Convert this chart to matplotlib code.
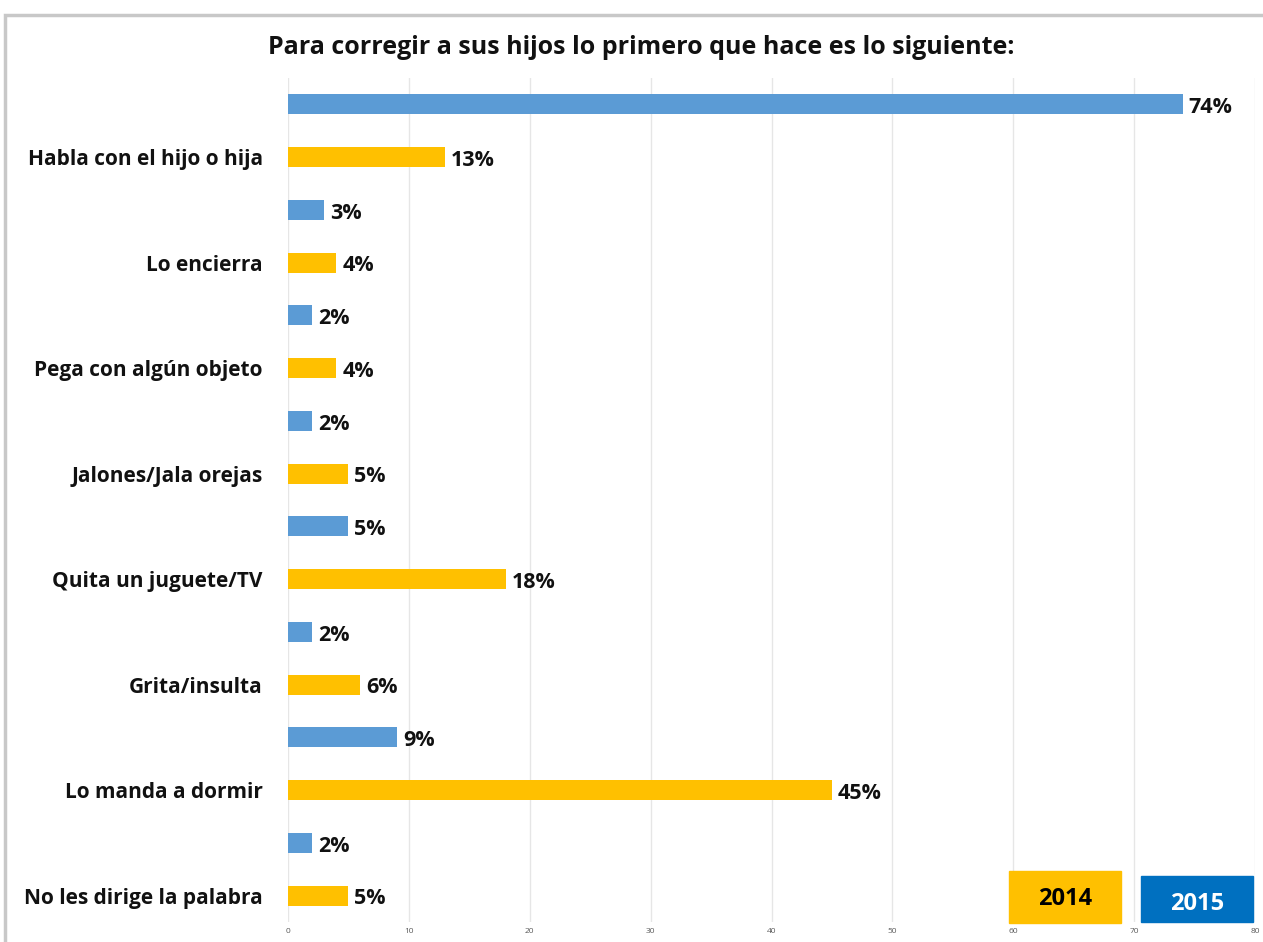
import numpy as np
import matplotlib.pyplot as plt
from matplotlib.patches import Rectangle

plt.rcParams['font.family'] = ['Open Sans', 'DejaVu Sans']

categorias = ['Habla con el hijo o hija', 'Lo encierra', 'Pega con algún objeto',
              'Jalones/Jala orejas', 'Quita un juguete/TV', 'Grita/insulta',
              'Lo manda a dormir', 'No les dirige la palabra']
valores_2015 = [74, 3, 2, 2, 5, 2, 9, 2]
valores_2014 = [13, 4, 4, 5, 18, 6, 45, 5]
ticks_x = [0, 10, 20, 30, 40, 50, 60, 70, 80]

azul = '#5B9BD5'
amarillo = '#FFC000'

fig = plt.figure(figsize=(12.63, 9.42), dpi=100)
ax = fig.add_axes([0.228, 0.0212, 0.7657, 0.896])

n = len(categorias)
pos_2015 = np.arange(n) * 2
pos_2014 = np.arange(n) * 2 + 1
h = 0.38

ax.barh(pos_2015, valores_2015, height=h, color=azul, zorder=3)
ax.barh(pos_2014, valores_2014, height=h, color=amarillo, zorder=3)

for p, v in zip(pos_2015, valores_2015):
    ax.text(v + 0.5, p + 0.06, f'{v}%', va='center', ha='left',
            fontsize=15.5, fontweight='bold', color='#111111')
for p, v in zip(pos_2014, valores_2014):
    ax.text(v + 0.5, p + 0.06, f'{v}%', va='center', ha='left',
            fontsize=15.5, fontweight='bold', color='#111111')

ax.set_yticks(pos_2014)
ax.set_yticklabels(categorias, fontsize=15, fontweight='bold', color='#111111')
ax.tick_params(axis='y', length=0, pad=18)
ax.set_xticks(ticks_x)
ax.tick_params(axis='x', length=0, labelsize=6, labelcolor='#595959', pad=4)
ax.set_xlim(0, 80)
ax.set_ylim(2 * n - 0.5, -0.5)
ax.grid(axis='x', color='#e6e6e6', linewidth=1, zorder=0)
for s in ax.spines.values():
    s.set_visible(False)

fig.text(0.508, 0.95, 'Para corregir a sus hijos lo primero que hace es lo siguiente:',
         ha='center', va='center', fontsize=18, fontweight='bold', color='#111111')

# borde del grafico
fig.add_artist(Rectangle((0.004, -0.01), 1.2, 0.994, transform=fig.transFigure,
                         fill=False, edgecolor='#c8c8c8', linewidth=2.5))

# leyenda como cajas de color
fig.add_artist(Rectangle((1009 / 1263, 1 - 923 / 942), 112 / 1263, 52 / 942,
                         transform=fig.transFigure, color=amarillo, zorder=5))
fig.text(1065 / 1263, 1 - 899 / 942, '2014', ha='center', va='center',
         fontsize=17, fontweight='bold', color='black', zorder=6)
fig.add_artist(Rectangle((1141 / 1263, 1 - 922 / 942), 112 / 1263, 46 / 942,
                         transform=fig.transFigure, color='#0070C0', zorder=5))
fig.text(1197 / 1263, 1 - 904 / 942, '2015', ha='center', va='center',
         fontsize=17, fontweight='bold', color='white', zorder=6)

fig.savefig('out.png', dpi=100)
